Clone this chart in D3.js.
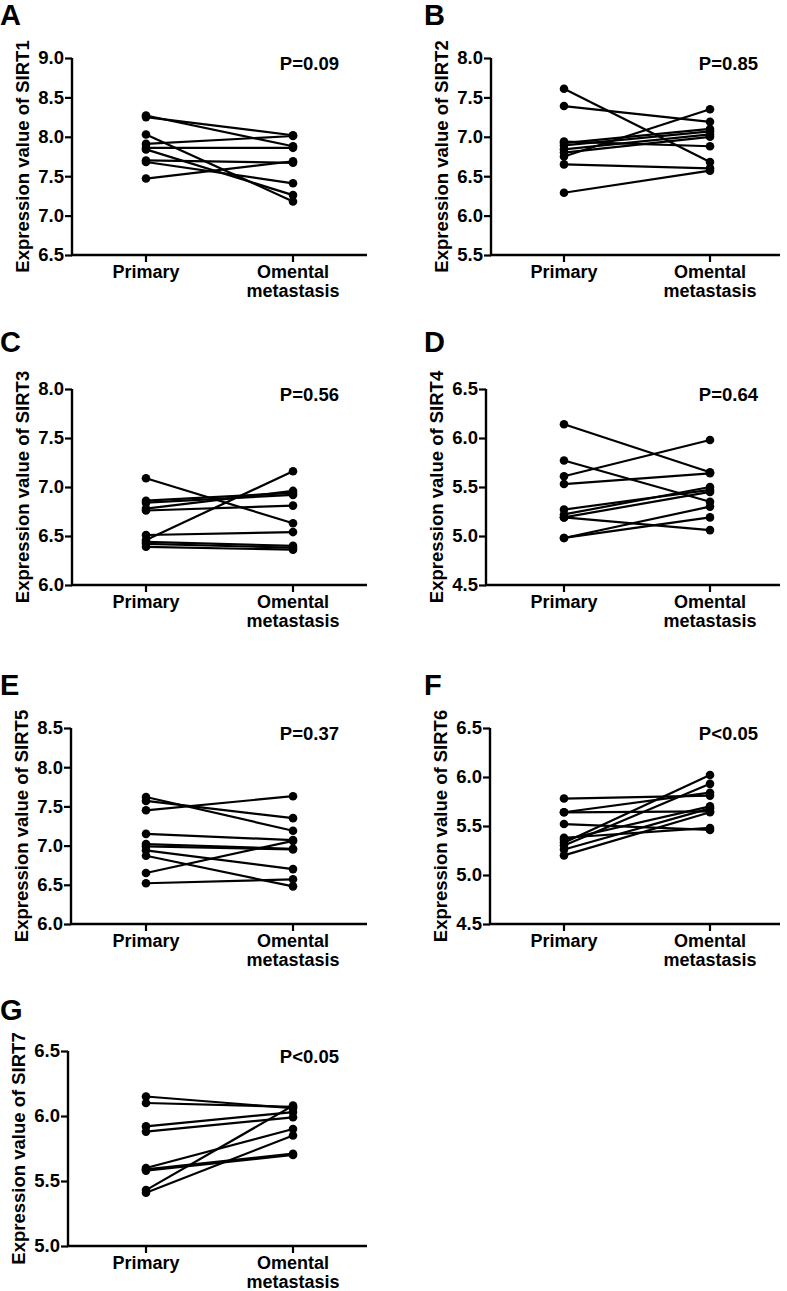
<!DOCTYPE html>
<html>
<head>
<meta charset="utf-8">
<script src="https://cdn.jsdelivr.net/npm/d3@7"></script>
<style>
  html, body { margin: 0; padding: 0; background: #fff; }
  svg text { font-family: "Liberation Sans", Arial, sans-serif; font-weight: bold; fill: #000; }
</style>
</head>
<body>
<svg id="chart" width="787" height="1291"></svg>
<script>
// ---------- DATA ----------
const categories = ["Primary", "Omental metastasis"];
const categoryLines = [["Primary"], ["Omental", "metastasis"]];
const panelLetters = ["A", "B", "C", "D", "E", "F", "G"];
const genes = ["SIRT1", "SIRT2", "SIRT3", "SIRT4", "SIRT5", "SIRT6", "SIRT7"];
const pLabels = ["P=0.09", "P=0.85", "P=0.56", "P=0.64", "P=0.37", "P<0.05", "P<0.05"];

const yDomains = [[6.5, 9.0], [5.5, 8.0], [6.0, 8.0], [4.5, 6.5], [6.0, 8.5], [4.5, 6.5], [5.0, 6.5]];
const yTicks = [
  [6.5, 7.0, 7.5, 8.0, 8.5, 9.0],
  [5.5, 6.0, 6.5, 7.0, 7.5, 8.0],
  [6.0, 6.5, 7.0, 7.5, 8.0],
  [4.5, 5.0, 5.5, 6.0, 6.5],
  [6.0, 6.5, 7.0, 7.5, 8.0, 8.5],
  [4.5, 5.0, 5.5, 6.0, 6.5],
  [5.0, 5.5, 6.0, 6.5]
];

// paired values: primary[i] -> omental[i]
const sirt1Primary = [8.27, 8.25, 8.03, 7.91, 7.86, 7.84, 7.70, 7.68, 7.47];
const sirt1Omental = [7.88, 8.02, 7.18, 8.01, 7.86, 7.26, 7.67, 7.41, 7.69];

const sirt2Primary = [7.61, 7.39, 6.94, 6.92, 6.89, 6.84, 6.80, 6.75, 6.65, 6.29];
const sirt2Omental = [6.68, 7.19, 6.88, 7.10, 7.07, 7.03, 7.00, 7.35, 6.60, 6.57];

const sirt3Primary = [7.09, 6.86, 6.84, 6.78, 6.76, 6.51, 6.46, 6.44, 6.42, 6.39];
const sirt3Omental = [6.63, 6.94, 6.92, 6.96, 6.81, 6.54, 7.16, 6.40, 6.38, 6.36];

const sirt4Primary = [6.14, 5.77, 5.61, 5.53, 5.27, 5.22, 5.19, 5.19, 4.98, 4.98];
const sirt4Omental = [5.65, 5.35, 5.98, 5.64, 5.47, 5.50, 5.06, 5.45, 5.30, 5.19];

const sirt5Primary = [7.62, 7.57, 7.45, 7.15, 7.02, 6.99, 6.94, 6.87, 6.65, 6.52];
const sirt5Omental = [7.19, 7.35, 7.63, 7.07, 6.96, 6.95, 6.70, 6.48, 7.06, 6.57];

const sirt6Primary = [5.78, 5.64, 5.64, 5.52, 5.38, 5.36, 5.33, 5.30, 5.26, 5.20];
const sirt6Omental = [5.81, 5.84, 5.65, 5.46, 5.48, 5.70, 6.02, 5.93, 5.68, 5.64];

const sirt7Primary = [6.15, 6.10, 5.92, 5.88, 5.60, 5.58, 5.59, 5.43, 5.41];
const sirt7Omental = [6.06, 6.07, 6.03, 5.99, 5.90, 5.70, 5.71, 6.08, 5.85];

const primarySeries = [sirt1Primary, sirt2Primary, sirt3Primary, sirt4Primary, sirt5Primary, sirt6Primary, sirt7Primary];
const omentalSeries = [sirt1Omental, sirt2Omental, sirt3Omental, sirt4Omental, sirt5Omental, sirt6Omental, sirt7Omental];

// ---------- LAYOUT ----------
const layout = [
  { axisX: 72,  top: 58,   bottom: 255,  col: 0, letterY: 25 },
  { axisX: 491, top: 58,   bottom: 255,  col: 1, letterY: 25 },
  { axisX: 72,  top: 389,  bottom: 585,  col: 0, letterY: 352 },
  { axisX: 486, top: 389,  bottom: 585,  col: 1, letterY: 352 },
  { axisX: 71,  top: 728,  bottom: 924,  col: 0, letterY: 695 },
  { axisX: 490, top: 728,  bottom: 924,  col: 1, letterY: 695 },
  { axisX: 68,  top: 1051, bottom: 1246, col: 0, letterY: 1020 }
];
const colGeom = [
  { letterX: 0,   xRange: [146, 293], axisEnd: 367, pRight: 339 },
  { letterX: 424, xRange: [564, 710], axisEnd: 780, pRight: 758 }
];

const svg = d3.select("#chart");

layout.forEach((L, i) => {
  const C = colGeom[L.col];
  const g = svg.append("g");

  const y = d3.scaleLinear().domain(yDomains[i]).range([L.bottom, L.top]);
  const x = d3.scalePoint().domain(categories).range(C.xRange);

  g.append("text")
    .attr("x", C.letterX).attr("y", L.letterY)
    .attr("font-size", 29)
    .text(panelLetters[i]);

  const yAxis = d3.axisLeft(y).tickValues(yTicks[i]).tickFormat(d3.format(".1f")).tickSize(7).tickPadding(1);
  const ya = g.append("g").attr("transform", `translate(${L.axisX},0)`).call(yAxis);
  ya.select(".domain").attr("stroke", "#000").attr("stroke-width", 2.4).attr("d", `M0,${L.top}V${L.bottom}`);
  ya.selectAll(".tick line").attr("stroke", "#000").attr("stroke-width", 2.2);
  ya.selectAll(".tick text").attr("font-size", 18.5).attr("font-family", "Liberation Sans, Arial, sans-serif").attr("font-weight", "bold").attr("fill", "#000");

  const xa = g.append("g").attr("transform", `translate(0,${L.bottom})`);
  xa.append("path")
    .attr("d", `M${L.axisX - 1},0H${C.axisEnd}`)
    .attr("stroke", "#000").attr("stroke-width", 2.4).attr("fill", "none");
  categories.forEach((c, ci) => {
    xa.append("line")
      .attr("x1", x(c)).attr("x2", x(c)).attr("y1", 0).attr("y2", 7)
      .attr("stroke", "#000").attr("stroke-width", 2.2);
    categoryLines[ci].forEach((t, li) => {
      xa.append("text")
        .attr("x", x(c)).attr("y", 23 + li * 18.5)
        .attr("text-anchor", "middle").attr("font-size", 18)
        .text(t);
    });
  });

  g.append("text")
    .attr("transform", `translate(${L.axisX - 43},${(L.top + L.bottom) / 2}) rotate(-90)`)
    .attr("text-anchor", "middle").attr("font-size", 18.5)
    .text("Expression value of " + genes[i]);

  g.append("text")
    .attr("x", C.pRight).attr("y", L.top + 12)
    .attr("text-anchor", "end").attr("font-size", 18.5)
    .text(pLabels[i]);

  const pairs = primarySeries[i].map((p, k) => ({ p: p, o: omentalSeries[i][k] }));
  g.selectAll("line.pair").data(pairs).enter().append("line")
    .attr("class", "pair")
    .attr("x1", x(categories[0])).attr("y1", d => y(d.p))
    .attr("x2", x(categories[1])).attr("y2", d => y(d.o))
    .attr("stroke", "#000").attr("stroke-width", 2.2);
  g.selectAll("circle.pp").data(pairs).enter().append("circle")
    .attr("class", "pp")
    .attr("cx", x(categories[0])).attr("cy", d => y(d.p)).attr("r", 4.3).attr("fill", "#000");
  g.selectAll("circle.po").data(pairs).enter().append("circle")
    .attr("class", "po")
    .attr("cx", x(categories[1])).attr("cy", d => y(d.o)).attr("r", 4.3).attr("fill", "#000");
});
</script>
</body>
</html>
